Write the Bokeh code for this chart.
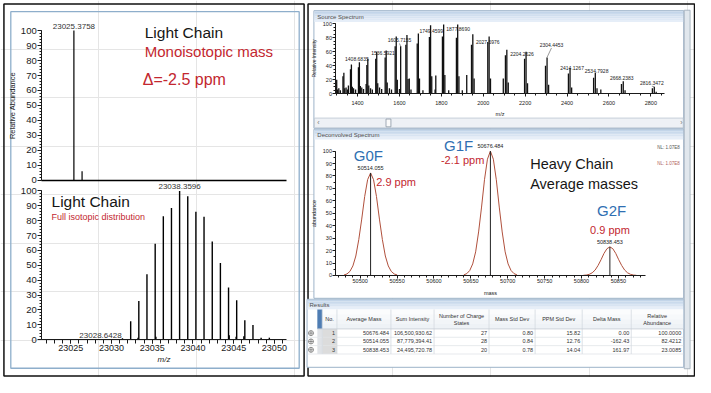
from bokeh.plotting import figure
from bokeh.models import Range1d, SingleIntervalTicker, FixedTicker, LinearAxis
from bokeh.embed import file_html
from bokeh.resources import INLINE
from bokeh.core.properties import value

SANS = "Liberation Sans"

# ------------------------------------------------------------------ DATA
# Light chain, monoisotopic (top left)
lt_mz = [23025.3758, 23026.38]
lt_abund = [100.0, 6.0]
lt_label_text = ["23025.3758"]

# Light chain, full isotopic distribution (bottom left)
lb_mz = [23028.6428, 23029.62, 23030.55, 23031.34, 23032.35, 23033.35, 23034.35,
         23035.36, 23036.36, 23037.36, 23038.3596, 23039.36, 23040.36, 23041.36,
         23042.37, 23043.37, 23044.37, 23045.37, 23046.37, 23047.37, 23048.37, 23049.38]
lb_abund = [0.4, 0.3, 0.4, 0.9, 12.4, 26.0, 44.0, 64.5, 83.0, 88.5, 100.0, 96.5,
            86.0, 82.6, 66.0, 51.5, 35.0, 26.5, 13.0, 9.8, 1.3, 1.3]
lb_minor_mz = [23033.25, 23035.45, 23044.45, 23045.3, 23046.25]
lb_minor_abund = [1.2, 2.0, 3.0, 2.0, 2.2]
lb_label_mz = [23038.3596, 23028.6428]
lb_label_abund = [100.0, 0.4]
lb_label_text = ["23038.3596", "23028.6428"]

# Source spectrum (heavy chain charge-state envelope, three glycoforms)
ss_g1f_mz = [1300.4, 1334.6, 1370.6, 1408.7, 1448.9, 1491.5, 1536.6, 1584.6, 1635.7, 1690.2, 1748.5,
             1810.9, 1877.9, 1950.1, 2028.0, 2112.5, 2204.3, 2304.5, 2414.2, 2534.8, 2668.2, 2816.3]
ss_g1f_int = [20, 30, 42, 45, 50, 60, 62, 82, 84, 86, 98, 99, 99, 85, 82, 63, 60, 52, 37, 30, 18, 10]
ss_g0f_mz = [1296.2, 1330.3, 1366.2, 1404.2, 1444.3, 1486.7, 1531.7, 1579.5, 1630.5, 1684.8, 1742.9,
             1805.1, 1871.9, 1943.9, 2021.6, 2105.8, 2197.2, 2297.1, 2406.5, 2526.7, 2659.7, 2807.3]
ss_g0f_int = [17, 25, 35, 38, 41, 50, 52, 68, 70, 72, 81, 82, 80, 70, 74, 55, 50, 40, 29, 23, 14, 8]
ss_g2f_mz = [1304.5, 1338.8, 1375.0, 1413.2, 1453.5, 1496.3, 1541.5, 1589.7, 1640.9, 1695.6, 1754.1,
             1816.7, 1883.9, 1956.3, 2034.5, 2119.3, 2211.3, 2311.9, 2421.9, 2542.9, 2676.8, 2825.3]
ss_g2f_int = [6, 8, 10, 11, 12, 15, 16, 20, 21, 22, 25, 27, 25, 22, 22, 16, 15, 13, 9, 8, 5, 3]
ss_other_mz = [1356.3, 1441.0, 1605.7155, 1646.8, 1773.4, 1921.1, 2095.6, 2561.1]
ss_other_int = [12, 14, 68, 22, 26, 27, 22, 6]
ss_minor_mz = [1310.5, 1318.0, 1345.2, 1352.0, 1381.0, 1390.5, 1420.0, 1428.5, 1462.0, 1470.5,
               1505.0, 1515.0, 1552.0, 1562.0, 1600.0, 1655.0, 1712.0, 1770.0, 1835.0, 1900.0]
ss_minor_int = [8, 5, 9, 6, 8, 6, 9, 7, 8, 6, 9, 7, 8, 6, 7, 6, 5, 6, 5, 5]
ss_label_text = ["1408.6835", "1536.5921", "1605.7155", "1749.4599", "1877.8690", "2027.5976",
                 "2204.2626", "2304.4453", "2414.1267", "2534.7928", "2668.2383", "2816.3472"]
ss_label_peak_int = [45, 62, 68, 98, 99, 82, 60, 52, 37, 30, 18, 10]
# where each label sits (m/z, intensity of the label centre)
ss_label_x = [1396.7, 1521.8, 1599.9, 1752.0, 1880.0, 2021.4, 2185.2, 2325.7, 2424.0, 2541.0, 2661.0, 2804.7]
ss_label_y = [50.0, 58.3, 76.4, 90.3, 93.0, 74.5, 57.4, 70.0, 37.0, 32.4, 22.2, 15.3]

# Deconvolved spectrum
dc_mass = [50514.055, 50676.484, 50838.453]
dc_abund = [82.4212, 100.0, 23.0085]
dc_label_text = ["50514.055", "50676.484", "50838.453"]
dc_names = ["G0F", "G1F", "G2F"]
dc_ppm = ["2.9 ppm", "-2.1 ppm", "0.9 ppm"]
dc_profile_offset = [-36, -32, -28, -24, -20, -16, -12, -8, -4, 0, 4, 8, 12, 16, 20, 24, 28, 32, 36]
dc_profile_shape = [0.005, 0.015, 0.04, 0.093, 0.19, 0.35, 0.55, 0.77, 0.935, 1.0,
                    0.935, 0.77, 0.55, 0.35, 0.19, 0.093, 0.04, 0.015, 0.005]

# Results table
tbl_headers = ["No.", "Average Mass", "Sum Intensity", "Number of Charge\nStates", "Mass Std Dev",
               "PPM Std Dev", "Delta Mass", "Relative\nAbundance"]
tbl_no = ["1", "2", "3"]
tbl_avg_mass = ["50676.484", "50514.055", "50838.453"]
tbl_sum_int = ["106,500,930.62", "87,779,394.41", "24,495,720.78"]
tbl_charges = ["27", "28", "20"]
tbl_mass_sd = ["0.80", "0.84", "0.78"]
tbl_ppm_sd = ["15.82", "12.76", "14.04"]
tbl_delta = ["0.00", "-162.43", "161.97"]
tbl_rel = ["100.0000", "82.4212", "23.0085"]

# ------------------------------------------------------------------ CANVAS
RED = "#c3272f"
BLUE = "#2f6fb2"
INK = "#161616"

W, H = 695, 377
RX0, RX1 = 0.0, 708.5      # layout coordinates (pixels of the original page) across the canvas
RY0, RY1 = 0.0, 388.0

p = figure(width=W, height=H, x_range=Range1d(RX0, RX1), y_range=Range1d(RY1, RY0),
           toolbar_location=None, output_backend="svg", min_border=0,
           x_axis_location=None, y_axis_location=None)
p.outline_line_color = None
p.background_fill_color = "white"
p.border_fill_color = "white"


def xr_from(v0, p0, k):
    return Range1d(v0 + (RX0 - p0) / k, v0 + (RX1 - p0) / k)


def yr_from(v0, p0, k):
    return Range1d(v0 - (RY1 - p0) / k, v0 - (RY0 - p0) / k)


# plot scales: (value, layout pixel, layout pixels per unit)
LT_X = (23025.0, 71.7, 8.30)
LT_Y = (0.0, 185.0, 1.54)
LB_Y = (0.0, 349.0, 1.53)
SS_X = (1400.0, 364.0, 0.21357)
SS_Y = (0.0, 96.0, 0.72)
DC_X = (50500.0, 366.7, 0.752)
DC_Y = (0.0, 283.0, 1.28)


def at(scale, px):
    v0, p0, k = scale
    return v0 + (px - p0) / k


p.extra_x_ranges = {"lt": xr_from(*LT_X), "ss": xr_from(*SS_X), "dc": xr_from(*DC_X)}
p.extra_y_ranges = {"lt": yr_from(*LT_Y), "lb": yr_from(*LB_Y), "ss": yr_from(*SS_Y), "dc": yr_from(*DC_Y)}


def hexmix(c1, c2, t):
    a = [int(c1[i:i + 2], 16) for i in (1, 3, 5)]
    b = [int(c2[i:i + 2], 16) for i in (1, 3, 5)]
    return "#" + "".join(f"{round(u + (v - u) * t):02x}" for u, v in zip(a, b))


def box(x0, y0, x1, y1, fill=None, line=None, lw=1.0):
    p.quad(left=[x0], right=[x1], top=[y0], bottom=[y1], fill_color=fill, line_color=line, line_width=lw)


def gradbar(x0, y0, x1, y1, ctop, cbot, n=6):
    h = (y1 - y0) / n
    for i in range(n):
        p.quad(left=[x0], right=[x1], top=[y0 + i * h], bottom=[y0 + (i + 1) * h],
               fill_color=hexmix(ctop, cbot, i / (n - 1)), line_color=None)


def btext(x, y, t, size, color=INK, align="left", baseline="middle", style="normal"):
    p.text(x=[x], y=[y], text=[t], text_font=value(SANS), text_font_size=size, text_color=color,
           text_align=align, text_baseline=baseline, text_font_style=style)


def make_axis(side, xname, yname, loc, bounds, ticker, size, tick_out=3, minor_out=2, standoff=1,
              label=None, label_size="6px", label_standoff=1, label_style="normal", color="#1a1a1a", lw=1.0):
    ax = LinearAxis(x_range_name=xname, y_range_name=yname, fixed_location=loc, bounds=bounds, ticker=ticker)
    ax.major_label_text_font = SANS
    ax.major_label_text_font_size = size
    ax.major_label_text_color = color
    ax.axis_line_color = color
    ax.axis_line_width = lw
    ax.major_tick_line_color = color
    ax.minor_tick_line_color = color
    ax.major_tick_in = 0
    ax.minor_tick_in = 0
    ax.major_tick_out = tick_out
    ax.minor_tick_out = minor_out
    ax.major_label_standoff = standoff
    if label:
        ax.axis_label = label
        ax.axis_label_text_font = SANS
        ax.axis_label_text_font_size = label_size
        ax.axis_label_text_font_style = label_style
        ax.axis_label_text_color = color
        ax.axis_label_standoff = label_standoff
    p.add_layout(ax, side)
    return ax


# ------------------------------------------------------------------ DECORATION
box(3.5, 3.5, 309.5, 386.5, line="#111111", lw=1.5)
box(10.5, 11.5, 304.5, 378.5, line="#8eaecb", lw=1.3)

box(313.5, 3.5, 707.5, 386.5, line="#111111", lw=1.5)
box(319.5, 10.5, 696.5, 131.5, fill="white", line="#9db3c9")
gradbar(320, 11, 696, 22, "#c3d5e9", "#e6eef8")
btext(323, 16.5, "Source Spectrum", "6px", color="#4d4d4d")
box(320, 121, 696, 131, fill="#eef1f5", line="#bac5d0", lw=0.8)
box(393, 122, 398, 130, fill="#fafafa", line="#8c98a4", lw=0.8)
btext(323, 126, "‹", "7px", color="#777777")
btext(693, 126, "›", "7px", color="#777777")
box(319.5, 132.5, 696.5, 306.5, fill="white", line="#9db3c9")
gradbar(320, 133, 696, 143, "#c3d5e9", "#e6eef8")
btext(323, 138, "Deconvolved Spectrum", "6px", color="#4d4d4d")
box(697, 10, 703, 379, fill="#e1e7ed", line="#9aa8b6", lw=0.8)
box(312.5, 307.5, 696.5, 377.5, fill="white", line="#9db3c9")
gradbar(313, 308, 696, 318, "#c3d5e9", "#e6eef8")
btext(315, 313, "Results", "6px", color="#4d4d4d")

# left panel texts
btext(147, 32.5, "Light Chain", "15.5px")
btext(147, 53, "Monoisotopic mass", "15px", color=RED)
btext(145, 81, "Δ=-2.5 ppm", "16px", color=RED)
btext(52, 207, "Light Chain", "15.5px")
btext(52, 223, "Full isotopic distribution", "9px", color=RED)

# deconvolved annotations
for (nx, ny), name in zip([(375, 160), (467, 149), (623, 216)], dc_names):
    btext(nx, ny, name, "15px", color=BLUE, align="center")
for (qx, qy), t in zip([(383, 187), (449, 164), (601, 236)], dc_ppm):
    btext(qx, qy, t, "11px", color=RED)
btext(540, 168, "Heavy Chain", "14.5px")
btext(540, 188.5, "Average masses", "14.5px")
btext(681, 151, "NL: 1.07E8", "4.5px", color="#555555", align="center")
btext(681, 168, "NL: 1.07E8", "4.5px", color="#b06060", align="center")

# results table
col_edges = [323, 328, 343, 398, 442, 498, 545, 593, 643, 696]
hdr_top, hdr_bot = 318, 338
row_h = 8.6
gradbar(323, hdr_top, 696, hdr_bot, "#fbfcfd", "#eef2f6", n=4)
box(323, hdr_top, 328, hdr_bot, fill="#4f7db3", line=None)
for i in range(3):
    rt = hdr_bot + i * row_h
    box(323, rt, 328, rt + row_h, fill="#dfe2e6", line=None)
    box(328, rt, 343, rt + row_h, fill="#dcdcdc", line=None)
    p.segment(x0=[313], y0=[rt + row_h], x1=[696], y1=[rt + row_h], line_color="#e1e4e8", line_width=0.8)
for e in col_edges[1:-1]:
    p.segment(x0=[e], y0=[hdr_top], x1=[e], y1=[hdr_bot + 3 * row_h], line_color="#d3d9e0", line_width=0.8)
p.segment(x0=[323], y0=[hdr_bot], x1=[696], y1=[hdr_bot], line_color="#c5ccd4", line_width=0.8)
for j, h in enumerate(tbl_headers):
    cx = (col_edges[j + 1] + col_edges[j + 2]) / 2
    btext(cx, (hdr_top + hdr_bot) / 2, h, "5.5px", color="#333333", align="center")
columns = [tbl_no, tbl_avg_mass, tbl_sum_int, tbl_charges, tbl_mass_sd, tbl_ppm_sd, tbl_delta, tbl_rel]
for j, col in enumerate(columns):
    right = col_edges[j + 2] - 2
    for i, t in enumerate(col):
        btext(right, hdr_bot + (i + 0.5) * row_h, t, "5.5px", color="#333333", align="right")
p.scatter(x=[316.5] * 3, y=[hdr_bot + (i + 0.5) * row_h for i in range(3)], marker="circle_cross",
          size=5, fill_color="white", line_color="#666666", line_width=0.7)

# ------------------------------------------------------------------ LEFT TOP: monoisotopic
lt_left, lt_right = at(LT_X, 42), at(LT_X, 292)
p.segment(x0=lt_mz, y0=[0] * len(lt_mz), x1=lt_mz, y1=lt_abund, line_color="black", line_width=1.2,
          x_range_name="lt", y_range_name="lt")
p.text(x=lt_mz[:1], y=lt_abund[:1], text=lt_label_text, text_font=value(SANS), text_font_size="8px",
       text_color="#333333", text_align="center", text_baseline="bottom", y_offset=-1.5,
       x_range_name="lt", y_range_name="lt")
make_axis("left", "lt", "lt", lt_left, (0, 100), SingleIntervalTicker(interval=10, num_minor_ticks=5),
          "9.5px", tick_out=4, minor_out=2, standoff=1, label="Relative Abundance", label_size="7.5px",
          label_standoff=1)
make_axis("below", "lt", "lt", 0, (lt_left, lt_right), FixedTicker(ticks=[]), "9px", color="black", lw=1.6)

# ------------------------------------------------------------------ LEFT BOTTOM: isotopic distribution
p.segment(x0=lb_mz, y0=[0] * len(lb_mz), x1=lb_mz, y1=lb_abund, line_color="black", line_width=1.4,
          x_range_name="lt", y_range_name="lb")
p.segment(x0=lb_minor_mz, y0=[0] * len(lb_minor_mz), x1=lb_minor_mz, y1=lb_minor_abund,
          line_color="black", line_width=1.4, x_range_name="lt", y_range_name="lb")
p.text(x=lb_label_mz, y=lb_label_abund, text=lb_label_text, text_font=value(SANS), text_font_size="8px",
       text_color="#333333", text_align="center", text_baseline="bottom", y_offset=-1.5,
       x_range_name="lt", y_range_name="lb")
make_axis("left", "lt", "lb", lt_left, (0, 100), SingleIntervalTicker(interval=10, num_minor_ticks=5),
          "9.5px", tick_out=4, minor_out=2, standoff=1)
make_axis("below", "lt", "lb", 0, (lt_left, lt_right), SingleIntervalTicker(interval=5, num_minor_ticks=5),
          "9px", tick_out=4, minor_out=4, standoff=1, label="m/z", label_size="8px", label_standoff=1,
          label_style="italic")

# ------------------------------------------------------------------ SOURCE SPECTRUM
ss_left, ss_right = at(SS_X, 342), at(SS_X, 677)
for mz, it in [(ss_g0f_mz, ss_g0f_int), (ss_g1f_mz, ss_g1f_int), (ss_g2f_mz, ss_g2f_int),
               (ss_other_mz, ss_other_int), (ss_minor_mz, ss_minor_int)]:
    p.segment(x0=mz, y0=[0] * len(mz), x1=mz, y1=it, line_color="#111111", line_width=1.3,
              x_range_name="ss", y_range_name="ss")
lead_x0, lead_y0, lead_x1, lead_y1 = [], [], [], []
for lx, ly, t, h in zip(ss_label_x, ss_label_y, ss_label_text, ss_label_peak_int):
    if h < ly - 5:
        lead_x0.append(lx)
        lead_y0.append(ly - 4.5)
        lead_x1.append(float(t))
        lead_y1.append(h)
p.segment(x0=lead_x0, y0=lead_y0, x1=lead_x1, y1=lead_y1, line_color="#555555", line_width=0.6,
          x_range_name="ss", y_range_name="ss")
p.text(x=ss_label_x, y=ss_label_y, text=ss_label_text, text_font=value(SANS), text_font_size="5px",
       text_color="#222222", text_align="center", text_baseline="middle", x_range_name="ss", y_range_name="ss")
make_axis("left", "ss", "ss", ss_left, (0, 100), SingleIntervalTicker(interval=20, num_minor_ticks=4),
          "5.5px", tick_out=3, minor_out=2, standoff=1, label="Relative Intensity", label_size="5px",
          label_standoff=2)
make_axis("below", "ss", "ss", 0, (ss_left, ss_right), SingleIntervalTicker(interval=200, num_minor_ticks=4),
          "5.5px", tick_out=3, minor_out=2, standoff=4, label="m/z", label_size="5.5px", label_standoff=3)

# ------------------------------------------------------------------ DECONVOLVED SPECTRUM
dc_left, dc_right = at(DC_X, 342), at(DC_X, 658)
curves_x = [[m + o for o in dc_profile_offset] for m in dc_mass]
curves_y = [[a * s for s in dc_profile_shape] for a in dc_abund]
p.multi_line(xs=curves_x, ys=curves_y, line_color="#b0503c", line_width=1.0, x_range_name="dc", y_range_name="dc")
p.segment(x0=dc_mass, y0=[0] * 3, x1=dc_mass, y1=dc_abund, line_color="#222222", line_width=1.0,
          x_range_name="dc", y_range_name="dc")
p.text(x=dc_mass, y=dc_abund, text=dc_label_text, text_font=value(SANS), text_font_size="5.5px",
       text_color="#222222", text_align="center", text_baseline="bottom", y_offset=-3,
       x_range_name="dc", y_range_name="dc")
make_axis("left", "dc", "dc", dc_left, (0, 100), SingleIntervalTicker(interval=10, num_minor_ticks=2),
          "5.5px", tick_out=3, minor_out=2, standoff=1, label="abundance", label_size="5.5px", label_standoff=2)
make_axis("below", "dc", "dc", 0, (dc_left, dc_right), SingleIntervalTicker(interval=50, num_minor_ticks=5),
          "5.5px", tick_out=3, minor_out=2, standoff=1, label="mass", label_size="5.5px", label_standoff=3)

open("out.html", "w").write(file_html(p, INLINE, title="Light and heavy chain masses"))
